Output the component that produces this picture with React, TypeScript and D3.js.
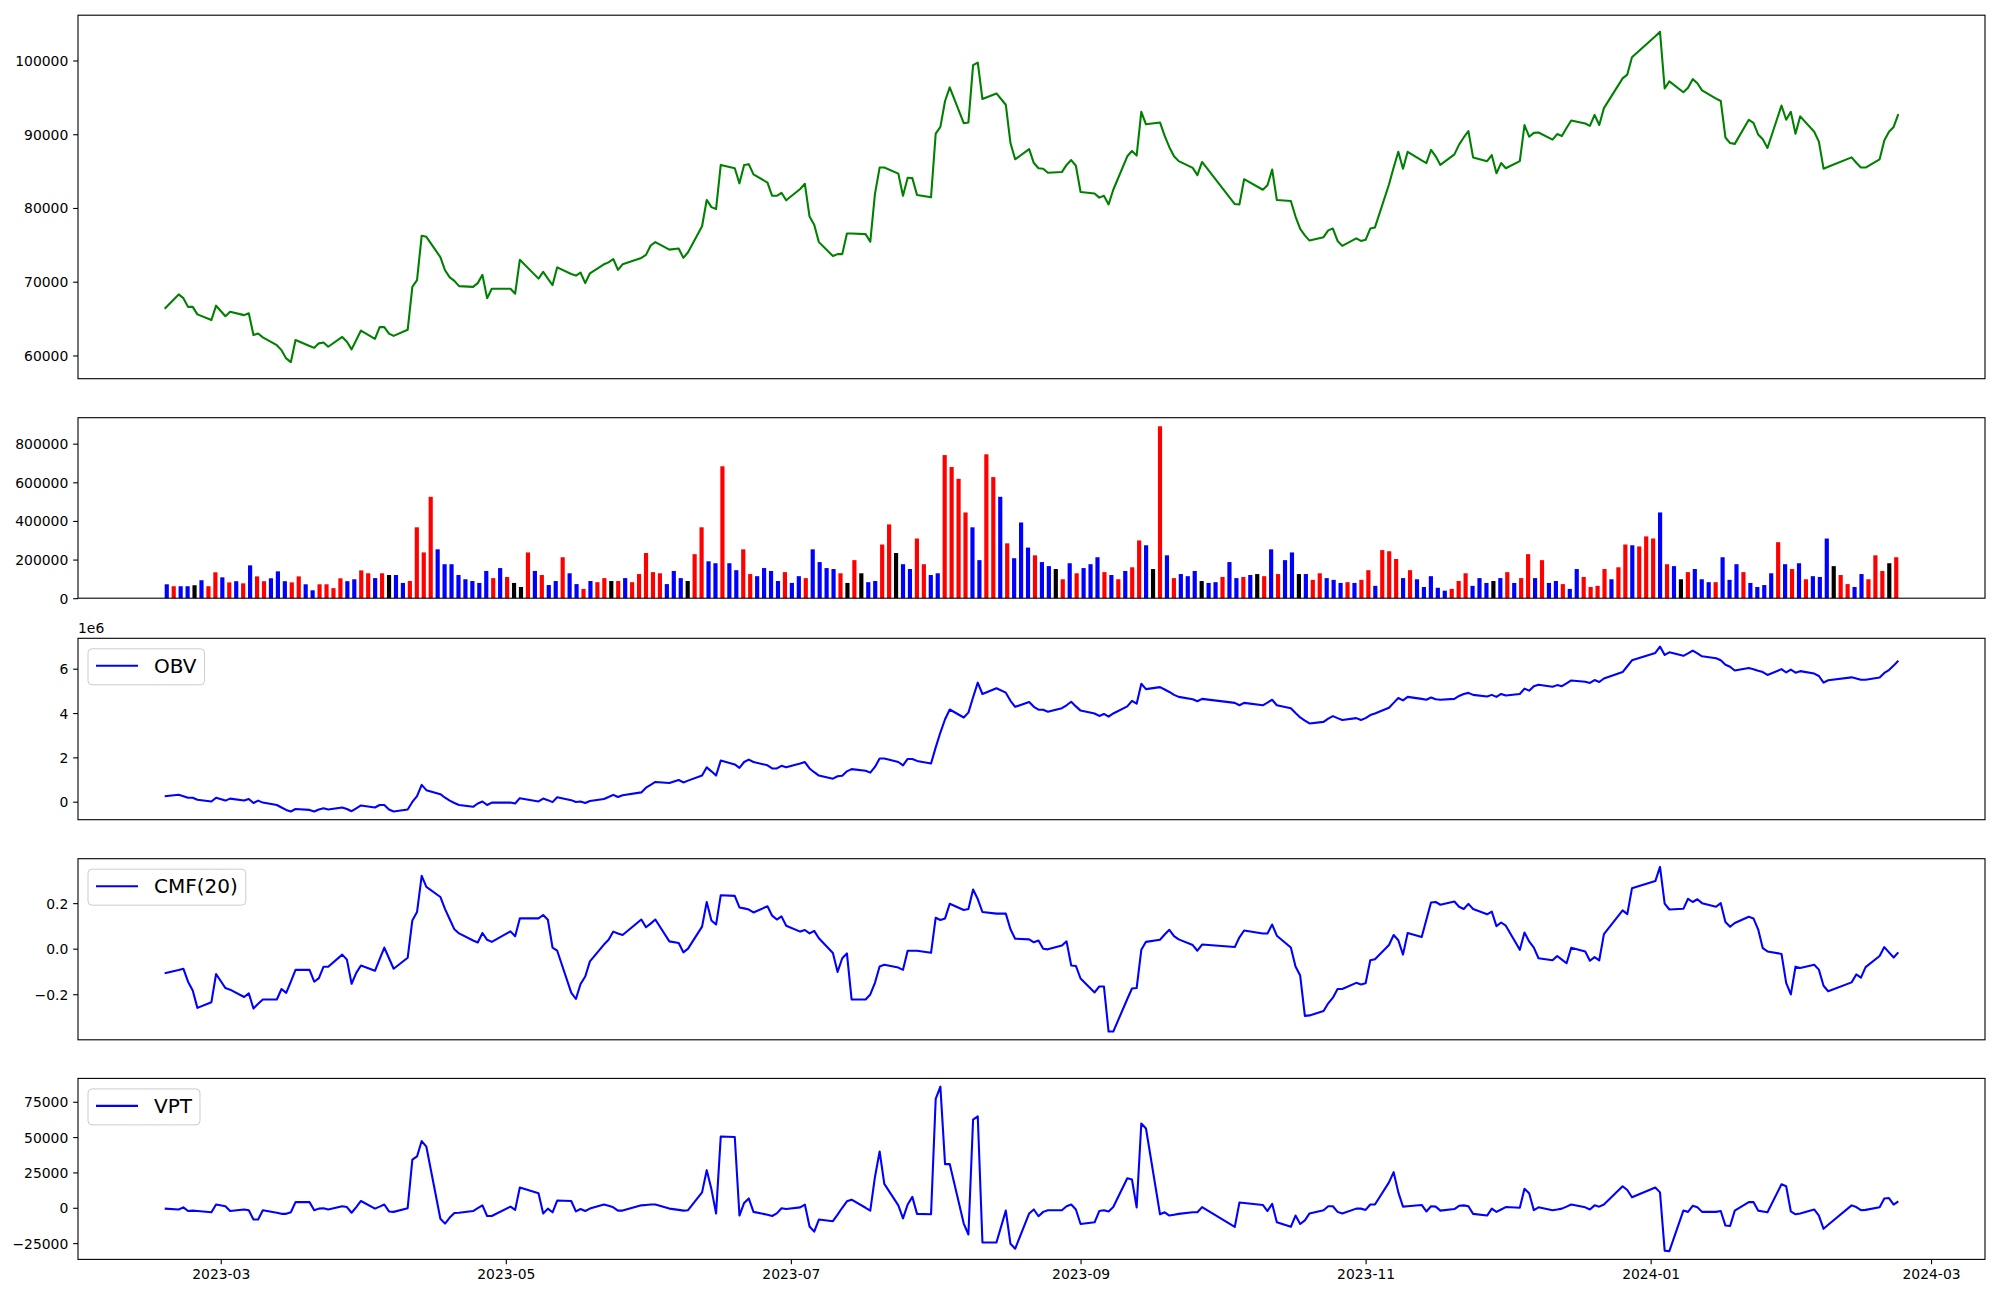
import { useEffect, useRef } from "react";
import * as d3 from "d3";

// KRX trading calendar, 2023-02-17 .. 2024-02-23
const startDay = "2023-02-17";
const endDay = "2024-02-23";
const holidays = [
  "2023-03-01", "2023-05-01", "2023-05-05", "2023-05-29", "2023-06-06",
  "2023-08-15", "2023-09-28", "2023-09-29", "2023-10-02", "2023-10-03",
  "2023-10-09", "2023-12-25", "2023-12-29", "2024-01-01", "2024-02-09",
  "2024-02-12",
];

const close = [
  66340, 68280, 67770, 66590, 66590, 65570, 64810, 66750, 65320, 65930,
  65470, 65730, 62770, 62970, 62460, 61390, 60720, 59600, 59090, 62100,
  61290, 61030, 61640, 61750, 61180, 62510, 61850, 60830, 62100, 63380,
  62260, 63840, 63840, 62970, 62660, 63480, 69300, 70220, 76240, 76090,
  73330, 71550, 70580, 70120, 69400, 69300, 69810, 70930, 67770, 69040,
  69040, 68380, 72970, 70420, 71340, 70420, 69550, 71950, 71040, 70830,
  71240, 69810, 71140, 72360, 72620, 73080, 71600, 72360, 73230, 73640,
  74910, 75370, 74350, 74510, 73230, 74000, 77520, 81090, 80120, 79860,
  85840, 85380, 83340, 85840, 85940, 84560, 83440, 81650, 81650, 82060,
  81040, 82570, 83280, 78840, 77720, 75370, 73480, 73740, 73740, 76550,
  76550, 76450, 75420, 81910, 85480, 85480, 84660, 81650, 84100, 84050,
  81750, 81450, 90070, 90990, 94510, 96350, 91500, 91600, 99360, 99720,
  94770, 95530, 94000, 88800, 86600, 87980, 86090, 85380, 85330, 84770,
  84870, 85840, 86500, 85730, 82160, 81960, 81400, 81650, 80480, 82470,
  87010, 87730, 87110, 93030, 91350, 91600, 89770, 88240, 87010, 86350,
  85430, 84460, 86240, 80530, 80480, 83900, 82470, 83080, 85220, 81090,
  80940, 78840, 77160, 76290, 75580, 76040, 76960, 77210, 75530, 74860,
  75880, 75530, 75680, 77210, 77360, 83180, 85480, 87620, 85330, 87620,
  86450, 86090, 87880, 87010, 85840, 87270, 88590, 89560, 90430, 86860,
  86350, 87160, 84710, 86090, 85380, 86350, 91250, 89660, 90180, 90230,
  89260, 90020, 89770, 90840, 91860, 91450, 91140, 92620, 91250, 93540,
  97580, 98090, 100430, 103290, 103900, 96200, 97170, 95690, 96300, 97470,
  96910, 95940, 94820, 94510, 89560, 88800, 88690, 91960, 91550, 89970,
  89310, 88130, 93900, 91960, 93030, 90070, 92420, 90330, 89000, 85330,
  85580, 86860, 86140, 85480, 85480, 86600, 89150, 90330, 90990, 92730,
];

// volume in thousands of shares
const volumeK = [
  72, 62, 62, 62, 67, 93, 62, 134, 108, 82,
  88, 77, 170, 113, 88, 103, 139, 88, 82, 113,
  72, 41, 72, 72, 52, 103, 88, 98, 144, 129,
  104, 129, 120, 120, 79, 89, 367, 237, 525, 253,
  176, 176, 120, 98, 89, 79, 141, 104, 156, 110,
  79, 58, 237, 141, 120, 68, 89, 212, 129, 73,
  48, 89, 83, 104, 89, 89, 104, 83, 125, 234,
  135, 129, 73, 141, 104, 89, 228, 367, 191, 181,
  683, 181, 145, 253, 125, 114, 156, 141, 89, 135,
  79, 114, 104, 253, 187, 156, 151, 129, 79, 197,
  129, 83, 89, 278, 382, 234, 176, 151, 309, 176,
  120, 129, 741, 679, 618, 444, 367, 197, 745, 627,
  525, 284, 207, 392, 262, 222, 187, 166, 151, 98,
  181, 129, 156, 176, 212, 135, 120, 98, 141, 160,
  299, 274, 151, 890, 222, 104, 125, 114, 141, 89,
  79, 83, 110, 187, 104, 110, 120, 125, 114, 253,
  125, 197, 237, 125, 125, 95, 129, 104, 95, 79,
  83, 79, 95, 145, 64, 249, 243, 203, 104, 145,
  98, 58, 114, 54, 39, 48, 89, 129, 64, 104,
  79, 89, 104, 135, 79, 104, 228, 104, 197, 79,
  89, 73, 48, 151, 110, 58, 64, 151, 98, 160,
  278, 274, 268, 320, 309, 444, 176, 166, 98, 135,
  151, 98, 83, 83, 212, 95, 176, 135, 79, 58,
  68, 129, 290, 176, 151, 181, 98, 114, 110, 309,
  166, 120, 73, 58, 125, 98, 222, 141, 181, 212,
];

// r = close up, b = close down, k = unchanged
const direction = [
  "brbbkbrrbr", "brbrrbbbrr", "bbrrrrbbrr", "brkbbrrrrb", "bbbbbbbrbr",
  "kkrbrbbrbb", "rbrrkrbrrr", "rrbbbkrrbb", "rbbrrbbbbr", "bbrbbbbrkr",
  "kbbrrkbbrr", "bbrrrrbbrr", "brbbbrbbkr", "brbbbrbrbr", "rbkrbrbbbk",
  "bbrbbrbkrb", "rbbkbrrbbb", "rbrrbrrrbr", "bbbbbrrrbb", "bkbrbrrbrb",
  "brbbrrrrbr", "rbrrrbrbkr", "bbbrbbbrbb", "bbrbrbrbbb", "krrbbrrrkr",
].join("");

// on-balance volume, millions
const obvM = [
  0.25, 0.31, 0.25, 0.18, 0.18, 0.09, 0.01, 0.18, 0.05, 0.14,
  0.05, 0.12, -0.06, 0.05, -0.04, -0.15, -0.26, -0.37, -0.44, -0.33,
  -0.37, -0.44, -0.35, -0.30, -0.35, -0.26, -0.33, -0.43, -0.30, -0.17,
  -0.26, -0.15, -0.15, -0.35, -0.44, -0.35, -0.01, 0.25, 0.76, 0.52,
  0.34, 0.18, 0.05, -0.06, -0.15, -0.23, -0.08, 0.01, -0.15, -0.04,
  -0.04, -0.08, 0.16, 0.01, 0.14, 0.07, -0.02, 0.20, 0.07, -0.01,
  0.01, -0.06, 0.03, 0.12, 0.21, 0.31, 0.21, 0.29, 0.42, 0.63,
  0.76, 0.89, 0.84, 0.98, 0.87, 0.95, 1.18, 1.55, 1.37, 1.18,
  1.86, 1.68, 1.53, 1.79, 1.90, 1.79, 1.64, 1.50, 1.50, 1.62,
  1.55, 1.72, 1.79, 1.50, 1.33, 1.18, 1.04, 1.15, 1.17, 1.37,
  1.47, 1.40, 1.31, 1.57, 1.95, 1.95, 1.79, 1.64, 1.93, 1.93,
  1.84, 1.72, 2.45, 3.12, 3.72, 4.16, 3.80, 4.02, 4.71, 5.37,
  4.86, 5.12, 4.92, 4.55, 4.28, 4.50, 4.28, 4.15, 4.15, 4.06,
  4.22, 4.35, 4.51, 4.30, 4.11, 3.98, 3.87, 3.96, 3.84, 3.98,
  4.30, 4.55, 4.42, 5.32, 5.08, 5.17, 5.06, 4.95, 4.82, 4.73,
  4.62, 4.53, 4.64, 4.46, 4.35, 4.46, 4.35, 4.47, 4.60, 4.35,
  4.22, 4.00, 3.80, 3.66, 3.53, 3.60, 3.75, 3.86, 3.77, 3.69,
  3.77, 3.69, 3.77, 3.91, 3.98, 4.24, 4.46, 4.68, 4.57, 4.73,
  4.64, 4.60, 4.70, 4.62, 4.60, 4.64, 4.77, 4.86, 4.91, 4.82,
  4.75, 4.82, 4.73, 4.86, 4.79, 4.86, 5.10, 5.01, 5.21, 5.28,
  5.19, 5.26, 5.21, 5.34, 5.47, 5.41, 5.36, 5.49, 5.40, 5.56,
  5.85, 6.11, 6.38, 6.71, 7.00, 6.62, 6.74, 6.58, 6.69, 6.82,
  6.69, 6.56, 6.47, 6.38, 6.18, 6.09, 5.92, 6.03, 5.98, 5.91,
  5.85, 5.72, 5.98, 5.83, 5.96, 5.82, 5.89, 5.78, 5.67, 5.37,
  5.48, 5.61, 5.56, 5.50, 5.50, 5.60, 5.81, 5.94, 6.14, 6.36,
];

const cmf = [
  -0.108, -0.094, -0.088, -0.145, -0.184, -0.260, -0.235, -0.111, -0.173, -0.180,
  -0.212, -0.196, -0.263, -0.242, -0.223, -0.223, -0.177, -0.194, -0.145, -0.093,
  -0.093, -0.145, -0.129, -0.079, -0.079, -0.026, -0.048, -0.154, -0.106, -0.074,
  -0.097, -0.046, 0.005, -0.042, -0.088, -0.040, 0.124, 0.161, 0.320, 0.271,
  0.227, 0.174, 0.129, 0.085, 0.067, 0.036, 0.027, 0.069, 0.039, 0.030,
  0.076, 0.055, 0.133, 0.133, 0.148, 0.127, 0.005, -0.009, -0.193, -0.221,
  -0.155, -0.122, -0.056, 0.018, 0.039, 0.075, 0.067, 0.060, 0.128, 0.094,
  0.110, 0.128, 0.032, 0.025, -0.016, 0.000, 0.097, 0.205, 0.124, 0.106,
  0.235, 0.232, 0.181, 0.177, 0.172, 0.159, 0.186, 0.145, 0.128, 0.142,
  0.101, 0.075, 0.082, 0.067, 0.078, 0.046, -0.019, -0.102, -0.042, -0.021,
  -0.223, -0.223, -0.201, -0.150, -0.078, -0.071, -0.083, -0.093, -0.009, -0.009,
  -0.009, -0.018, 0.136, 0.126, 0.133, 0.197, 0.170, 0.174, 0.260, 0.218,
  0.161, 0.154, 0.154, 0.085, 0.044, 0.041, 0.028, 0.036, 0.000, -0.003,
  0.014, 0.032, -0.074, -0.076, -0.131, -0.192, -0.166, -0.166, -0.364, -0.364,
  -0.221, -0.175, -0.173, -0.005, 0.030, 0.039, 0.062, 0.083, 0.055, 0.041,
  0.016, -0.009, 0.018, 0.007, 0.050, 0.080, 0.067, 0.067, 0.106, 0.057,
  0.005, -0.078, -0.118, -0.295, -0.293, -0.274, -0.240, -0.215, -0.177, -0.177,
  -0.150, -0.157, -0.152, -0.051, -0.046, 0.016, 0.060, 0.037, -0.026, 0.069,
  0.051, 0.127, 0.203, 0.205, 0.193, 0.207, 0.184, 0.174, 0.197, 0.174,
  0.151, 0.163, 0.099, 0.115, 0.101, -0.005, 0.071, 0.032, 0.005, -0.042,
  -0.051, -0.032, -0.048, -0.064, 0.004, -0.012, -0.053, -0.037, -0.051, 0.064,
  0.168, 0.152, 0.265, 0.297, 0.359, 0.198, 0.172, 0.175, 0.219, 0.205,
  0.217, 0.200, 0.184, 0.200, 0.117, 0.096, 0.113, 0.140, 0.133, 0.085,
  0.002, -0.012, -0.023, -0.150, -0.201, -0.079, -0.085, -0.071, -0.092, -0.163,
  -0.187, -0.148, -0.113, -0.127, -0.081, -0.032, 0.007, -0.016, -0.039, -0.016,
];

const vpt = [
  -600, -1200, 300, -2300, -2000, -2300, -3200, 2300, 1100, -2300,
  -1200, -1700, -8300, -8300, -1700, -3500, -4300, -4300, -3200, 4000,
  4000, -1700, -600, -300, -1200, 1100, 500, -3500, 500, 4800,
  -600, 800, 2300, -2600, -2900, -300, 34000, 36300, 47200, 43200,
  -7800, -11200, -6900, -3700, -3500, -2300, -300, 1700, -5800, -5800,
  800, -1500, 14300, 10300, -4000, -600, -3200, 5100, 4800, -2600,
  -900, -2300, -600, 2300, 1400, 300, -2000, -2000, 1700, 2000,
  2300, 2300, -600, -1500, -2000, -1700, 10900, 26600, 13200, -4000,
  50400, 50100, -5500, 3400, 6600, -2900, -4900, -5800, -4000, -300,
  -900, 300, 2300, -13200, -16900, -8300, -9500, -4900, 0, 4600,
  5700, 0, -2000, 21800, 39800, 16900, 1700, -7500, 2300, 7700,
  -4300, -4600, 77000, 85700, 30900, 30900, -11200, -18900, 62400, 64700,
  -24600, -24600, -2000, -25500, -29000, -4000, -1200, -6000, -2900, -1700,
  -1700, 1100, 2300, -1200, -11500, -10300, -2300, -1700, -2600, 500,
  20900, 20000, 300, 59600, 56100, -4600, -3200, -5500, -4900, -4300,
  -3200, -3200, 500, -13500, 3700, 3400, 2000, -2300, 2800, -10300,
  -13500, -5500, -11500, -8900, -4000, -1700, 1100, 1100, -2900, -4000,
  -600, -600, -1500, 2300, 2300, 18000, 25200, 10900, 800, 1100,
  2000, -2600, 1100, 800, -2000, -900, 1400, 1700, 1100, -4300,
  -5500, -600, -2900, -1200, 500, 0, 13400, 10300, -1700, 300,
  -1700, -1200, -600, 800, 2300, 300, -1200, 1700, 800, 2300,
  15200, 12600, 7400, 14300, 10900, -30300, -30700, -2000, -2900, 1400,
  300, -2900, -2900, -2300, -12600, -12900, -2000, 4000, 4000, -2000,
  -2600, -3200, 16600, 15200, -2600, -4600, -4000, -1200, -5500, -14900,
  -12000, 1700, 500, -1700, -1500, 300, 6600, 6900, 2300, 4600,
];

const priceTicks = [60000, 70000, 80000, 90000, 100000];
const volumeTicks = [0, 200000, 400000, 600000, 800000];
const obvTicks = [0, 2e6, 4e6, 6e6];
const cmfTicks = [-0.2, 0, 0.2];
const vptTicks = [-25000, 0, 25000, 50000, 75000];
const dateTicks = ["2023-03-01", "2023-05-01", "2023-07-01", "2023-09-01", "2023-11-01", "2024-01-01", "2024-03-01"];

const barColors: Record<string, string> = { r: "red", b: "blue", k: "black" };

const LEFT = 78;
const RIGHT = 1985;
const panels = [
  { top: 15.2, h: 363.5 },
  { top: 417.7, h: 180.5 },
  { top: 638.3, h: 181.4 },
  { top: 858.7, h: 181.1 },
  { top: 1078.4, h: 181.0 },
];
const FONT = "DejaVu Sans, sans-serif";
const TICK_PX = 13.9;

function tradingDays(): Date[] {
  const off = new Set(holidays);
  const out: Date[] = [];
  const end = new Date(endDay + "T00:00:00Z").getTime();
  for (let t = new Date(startDay + "T00:00:00Z").getTime(); t <= end; t += 864e5) {
    const d = new Date(t);
    const wd = d.getUTCDay();
    if (wd === 0 || wd === 6) continue;
    if (off.has(d.toISOString().slice(0, 10))) continue;
    out.push(d);
  }
  return out;
}

function padded(values: number[]): [number, number] {
  const [lo, hi] = d3.extent(values) as [number, number];
  const m = (hi - lo) * 0.05;
  return [lo - m, hi + m];
}

export default function App() {
  const svgRef = useRef<SVGSVGElement>(null);

  useEffect(() => {
    if (!svgRef.current) return;
    const svg = d3.select(svgRef.current);
    svg.selectAll("*").remove();

    const dates = tradingDays().slice(0, close.length);
    const n = dates.length;
    const t0 = dates[0].getTime();
    const t1 = dates[n - 1].getTime();
    const tm = (t1 - t0) * 0.05;
    const x = d3.scaleUtc().domain([new Date(t0 - tm), new Date(t1 + tm)]).range([LEFT, RIGHT]);

    // volume bars sit on their own integer axis
    const barW = 0.6;
    const span = n - 1 + barW;
    const xi = d3
      .scaleLinear()
      .domain([-barW / 2 - 0.05 * span, n - 1 + barW / 2 + 0.05 * span])
      .range([LEFT, RIGHT]);

    const yAxis = (
      p: { top: number; h: number },
      y: d3.ScaleLinear<number, number>,
      ticks: number[],
      fmt: (v: number) => string
    ) => {
      const g = svg.append("g").attr("transform", `translate(${LEFT},0)`);
      g.call(d3.axisLeft(y).tickValues(ticks).tickFormat((v) => fmt(+v)).tickSize(4.86).tickPadding(4.86));
      g.select(".domain").remove();
      g.selectAll("line").attr("stroke", "#000").attr("stroke-width", 1.1);
      g.selectAll("text")
        .attr("font-family", FONT)
        .attr("font-size", TICK_PX)
        .attr("fill", "#000")
        .attr("dy", "0.36em");
      return g;
    };

    const frame = (p: { top: number; h: number }) => {
      svg
        .append("rect")
        .attr("x", LEFT)
        .attr("y", p.top)
        .attr("width", RIGHT - LEFT)
        .attr("height", p.h)
        .attr("fill", "none")
        .attr("stroke", "#000")
        .attr("stroke-width", 1.1);
    };

    const legend = (p: { top: number; h: number }, label: string) => {
      const g = svg.append("g").attr("transform", `translate(${LEFT + 10},${p.top + 10.5})`);
      const box = g
        .append("rect")
        .attr("height", 36)
        .attr("rx", 4)
        .attr("fill", "#fff")
        .attr("fill-opacity", 0.8)
        .attr("stroke", "#cccccc")
        .attr("stroke-width", 1);
      g.append("line")
        .attr("x1", 8)
        .attr("x2", 50)
        .attr("y1", 17)
        .attr("y2", 17)
        .attr("stroke", "blue")
        .attr("stroke-width", 2.08);
      const txt = g
        .append("text")
        .attr("x", 66)
        .attr("y", 24.3)
        .attr("font-family", FONT)
        .attr("font-size", 20)
        .attr("fill", "#000")
        .text(label);
      const w = (txt.node() as SVGTextElement).getComputedTextLength();
      box.attr("width", 66 + w + 8);
    };

    const linePanel = (
      p: { top: number; h: number },
      values: number[],
      color: string,
      ticks: number[],
      fmt: (v: number) => string
    ) => {
      const y = d3.scaleLinear().domain(padded(values)).range([p.top + p.h, p.top]);
      const line = d3
        .line<number>()
        .x((_, i) => x(dates[i]))
        .y((v) => y(v));
      svg
        .append("path")
        .datum(values)
        .attr("d", line)
        .attr("fill", "none")
        .attr("stroke", color)
        .attr("stroke-width", 2.08)
        .attr("stroke-linejoin", "round");
      yAxis(p, y, ticks, fmt);
      frame(p);
      return y;
    };

    // price
    linePanel(panels[0], close, "green", priceTicks, (v) => d3.format("d")(v));

    // volume
    const volume = volumeK.map((v) => v * 1000);
    const pv = panels[1];
    const yv = d3
      .scaleLinear()
      .domain([0, (d3.max(volume) as number) * 1.05])
      .range([pv.top + pv.h, pv.top]);
    const bw = xi(barW) - xi(0);
    svg
      .append("g")
      .selectAll("rect")
      .data(volume)
      .join("rect")
      .attr("x", (_, i) => xi(i) - bw / 2)
      .attr("y", (v) => yv(v))
      .attr("width", bw)
      .attr("height", (v) => yv(0) - yv(v))
      .attr("fill", (_, i) => barColors[direction[i]] ?? "black");
    yAxis(pv, yv, volumeTicks, (v) => d3.format("d")(v));
    frame(pv);

    // OBV
    const obv = obvM.map((v) => v * 1e6);
    linePanel(panels[2], obv, "blue", obvTicks, (v) => d3.format("d")(v / 1e6));
    svg
      .append("text")
      .attr("x", LEFT)
      .attr("y", panels[2].top - 5)
      .attr("font-family", FONT)
      .attr("font-size", TICK_PX)
      .attr("fill", "#000")
      .text("1e6");
    legend(panels[2], "OBV");

    // CMF
    linePanel(panels[3], cmf, "blue", cmfTicks, (v) => d3.format(".1f")(v));
    legend(panels[3], "CMF(20)");

    // VPT
    const p5 = panels[4];
    linePanel(p5, vpt, "blue", vptTicks, (v) => d3.format("d")(v));
    legend(p5, "VPT");

    const gx = svg.append("g").attr("transform", `translate(0,${p5.top + p5.h})`);
    gx.call(
      d3
        .axisBottom(x)
        .tickValues(dateTicks.map((s) => new Date(s + "T00:00:00Z")))
        .tickFormat((d) => d3.utcFormat("%Y-%m")(d as Date))
        .tickSize(4.86)
        .tickPadding(4.86)
    );
    gx.select(".domain").remove();
    gx.selectAll("line").attr("stroke", "#000").attr("stroke-width", 1.1);
    gx.selectAll("text").attr("font-family", FONT).attr("font-size", TICK_PX).attr("fill", "#000");
  }, []);

  return (
    <svg
      ref={svgRef}
      width={2000}
      height={1300}
      style={{ position: "absolute", left: 0, top: 0, background: "#fff" }}
    />
  );
}
